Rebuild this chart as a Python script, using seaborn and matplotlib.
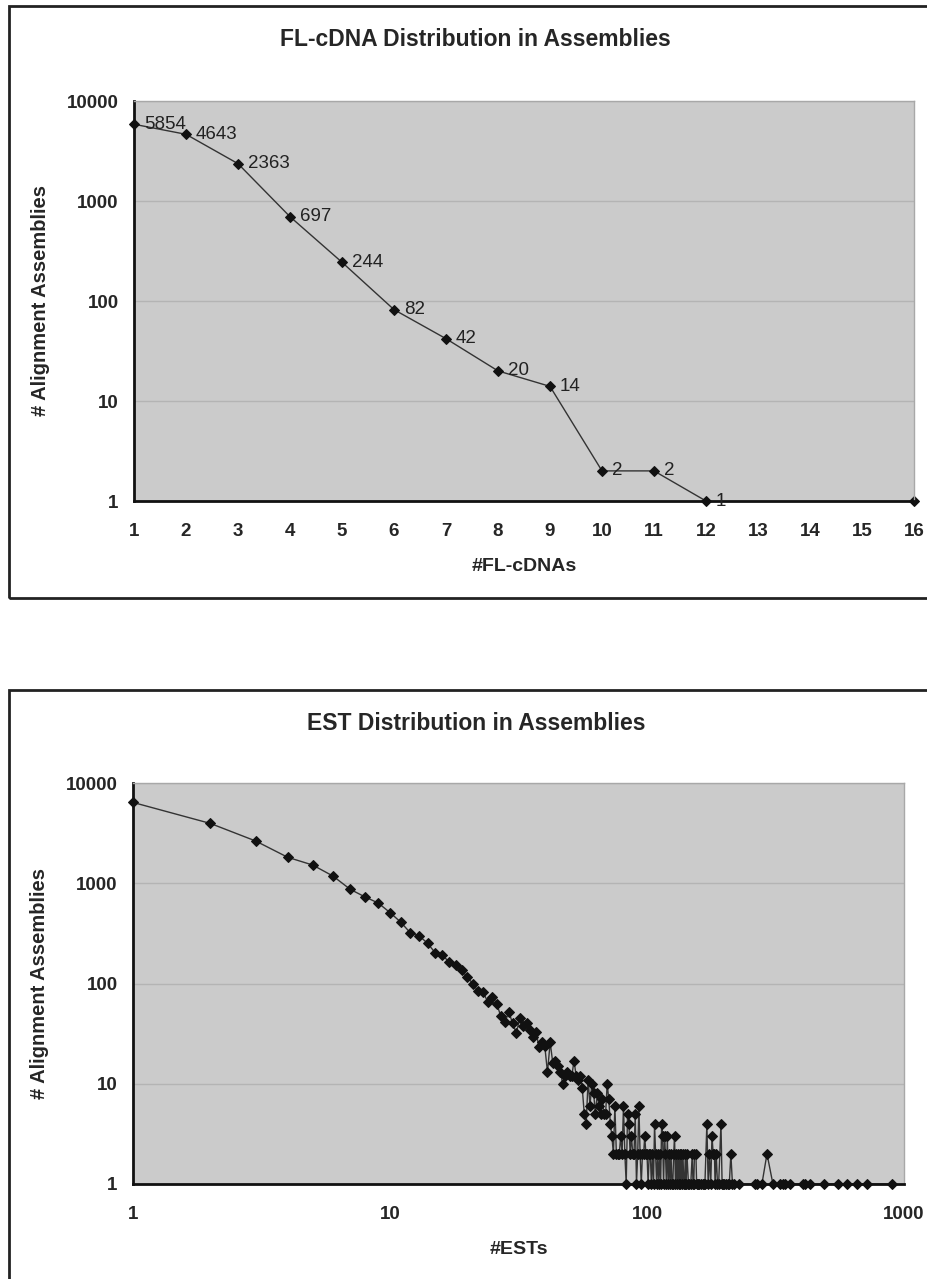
import numpy as np
import pandas as pd
import matplotlib
matplotlib.use("Agg")
import matplotlib.pyplot as plt
from matplotlib.patches import Rectangle
from matplotlib.ticker import NullLocator
import seaborn as sns

# ---- data ----
fl_cdnas = list(range(1, 17))
fl_assemblies = [5854, 4643, 2363, 697, 244, 82, 42, 20, 14, 2, 2, 1,
                 np.nan, np.nan, np.nan, 1]
fl_labels = ["5854", "4643", "2363", "697", "244", "82", "42", "20", "14",
             "2", "2", "1", "", "", "", ""]

est_counts = [
    1, 2, 3, 4, 5, 6, 7, 8, 9, 10,
    11, 12, 13, 14, 15, 16, 17, 18, 19, 20,
    21, 22, 23, 24, 25, 26, 27, 28, 29, 30,
    31, 32, 33, 34, 35, 36, 37, 38, 39, 40,
    41, 42, 43, 44, 45, 46, 47, 48, 49, 50,
    51, 52, 53, 54, 55, 56, 57, 58, 59, 60,
    61, 62, 63, 64, 65, 66, 67, 68, 69, 70,
    71, 72, 73, 74, 75, 76, 77, 78, 79, 80,
    81, 82, 83, 84, 85, 86, 87, 88, 89, 90,
    91, 92, 93, 94, 95, 96, 97, 98, 99, 100,
    101, 102, 103, 104, 105, 106, 107, 108, 109, 110,
    111, 112, 113, 114, 115, 116, 117, 118, 119, 120,
    121, 122, 123, 124, 125, 126, 127, 128, 129, 130,
    131, 132, 133, 134, 135, 136, 137, 138, 139, 140,
    141, 142, 143, 145, 146, 148, 150, 151, 152, 153,
    155, 156, 158, 160, 162, 165, 167, 168, 171, 173,
    175, 177, 179, 181, 183, 184, 186, 188, 190, 194,
    196, 198, 200, 203, 206, 209, 212, 215, 218, 228,
    262, 268, 280, 293, 309, 330, 338, 345, 360, 404,
    412, 431, 488, 553, 600, 657, 718, 895,
]
est_assemblies = [
    6400, 3950, 2640, 1815, 1520, 1180, 870, 730, 635, 510,
    410, 320, 298, 252, 202, 192, 163, 153, 137, 115,
    100, 84, 82, 66, 74, 63, 47, 41, 52, 40,
    32, 45, 38, 40, 34, 29, 33, 23, 26, 24,
    13, 26, 16, 17, 15, 13, 10, 12, 13, 12,
    12, 17, 12, 11, 12, 9, 5, 4, 11, 6,
    10, 8, 5, 8, 6, 5, 7, 5, 5, 10,
    7, 4, 3, 2, 6, 2, 2, 2, 3, 2,
    6, 2, 1, 5, 4, 2, 3, 2, 2, 5,
    1, 2, 6, 2, 1, 2, 2, 3, 2, 2,
    1, 2, 2, 1, 2, 1, 4, 2, 1, 2,
    1, 2, 1, 4, 3, 1, 3, 2, 1, 3,
    1, 2, 1, 2, 1, 1, 2, 3, 1, 2,
    1, 2, 1, 2, 1, 2, 1, 2, 1, 1,
    2, 1, 2, 1, 1, 1, 2, 1, 1, 2,
    2, 1, 1, 1, 1, 1, 1, 1, 4, 1,
    2, 1, 3, 2, 2, 1, 2, 1, 1, 4,
    1, 1, 1, 1, 1, 1, 2, 1, 1, 1,
    1, 1, 1, 2, 1, 1, 1, 1, 1, 1,
    1, 1, 1, 1, 1, 1, 1, 1,
]

log_ticks = [1, 10, 100, 1000, 10000]
log_tick_labels = ["1", "10", "100", "1000", "10000"]

PLOT_BG = "#cbcbcb"
GRID = "#b4b4b4"
LINE = "#333333"
MARK = "#111111"

sns.set_style("white")
plt.rcParams["font.family"] = ["Liberation Sans", "DejaVu Sans"]

W, H = 928, 1279
fig = plt.figure(figsize=(W / 100, H / 100), dpi=100)


def fx(px):
    return px / W


def fy(py):
    return 1 - py / H


def style_axes(ax):
    ax.set_facecolor(PLOT_BG)
    ax.set_yscale("log")
    ax.set_ylim(1, 10000)
    ax.set_yticks(log_ticks)
    ax.set_yticklabels(log_tick_labels)
    ax.yaxis.set_minor_locator(NullLocator())
    ax.xaxis.set_minor_locator(NullLocator())
    ax.yaxis.grid(True, color=GRID, linewidth=1)
    ax.xaxis.grid(False)
    for side in ["left", "bottom"]:
        ax.spines[side].set_color("#111111")
        ax.spines[side].set_linewidth(2)
    for side in ["top", "right"]:
        ax.spines[side].set_color("#a8a8a8")
        ax.spines[side].set_linewidth(1)
    ax.tick_params(axis="both", which="major", direction="out", length=5,
                   width=1.5, color="#111111", labelsize=13.5)
    ax.tick_params(axis="y", pad=6)
    ax.tick_params(axis="x", pad=11)
    for lab in ax.get_xticklabels() + ax.get_yticklabels():
        lab.set_fontweight("bold")
    ax.set_ylabel("# Alignment Assemblies", fontsize=14.5, fontweight="bold",
                  labelpad=12)


# ---- frames ----
fig.patches.append(Rectangle((fx(9), fy(598)), 1.2, (598 - 6) / H,
                             transform=fig.transFigure, fill=False,
                             edgecolor="#222222", linewidth=2))
fig.patches.append(Rectangle((fx(9), -0.2), 1.2, fy(690) + 0.2,
                             transform=fig.transFigure, fill=False,
                             edgecolor="#222222", linewidth=2))

# ---- top chart ----
top = pd.DataFrame({"fl": fl_cdnas, "n": fl_assemblies, "label": fl_labels})
top["run"] = top["n"].isna().cumsum()
top_plot = top.dropna(subset=["n"])

ax1 = fig.add_axes([fx(134), fy(501), fx(914) - fx(134), (501 - 101) / H])
sns.lineplot(data=top_plot, x="fl", y="n", units="run", estimator=None,
             color=LINE, linewidth=1, marker="D", markersize=5,
             markerfacecolor=MARK, markeredgecolor=MARK, legend=False,
             clip_on=False, ax=ax1)
style_axes(ax1)
ax1.set_xlim(1, 16)
ax1.set_xticks(fl_cdnas)
ax1.set_xticklabels([str(v) for v in fl_cdnas])
for lab in ax1.get_xticklabels():
    lab.set_fontweight("bold")
ax1.set_xlabel("#FL-cDNAs", fontsize=14, fontweight="bold", labelpad=13)
for _, row in top_plot.iterrows():
    if row["label"]:
        ax1.annotate(row["label"], (row["fl"], row["n"]), xytext=(10, 0),
                     textcoords="offset pixels", ha="left", va="center",
                     fontsize=13.5, color="#222222", annotation_clip=False)
fig.text(fx(475), fy(40), "FL-cDNA Distribution in Assemblies",
         ha="center", va="center", fontsize=16.5, fontweight="bold")

# ---- bottom chart ----
est = pd.DataFrame({"ests": est_counts, "n": est_assemblies})
ax2 = fig.add_axes([fx(133), fy(1184), fx(904) - fx(133), (1184 - 783) / H])
sns.lineplot(data=est, x="ests", y="n", estimator=None, sort=True,
             color=LINE, linewidth=1, marker="D", markersize=5,
             markerfacecolor=MARK, markeredgecolor=MARK, legend=False,
             clip_on=False, ax=ax2)
ax2.set_xscale("log")
style_axes(ax2)
ax2.set_xlim(1, 1000)
ax2.set_xticks([1, 10, 100, 1000])
ax2.set_xticklabels(["1", "10", "100", "1000"])
ax2.xaxis.set_minor_locator(NullLocator())
for lab in ax2.get_xticklabels():
    lab.set_fontweight("bold")
ax2.set_xlabel("#ESTs", fontsize=14, fontweight="bold", labelpad=13)
fig.text(fx(476), fy(724), "EST Distribution in Assemblies",
         ha="center", va="center", fontsize=16.5, fontweight="bold")

fig.savefig("out.png", dpi=100, facecolor="white")
